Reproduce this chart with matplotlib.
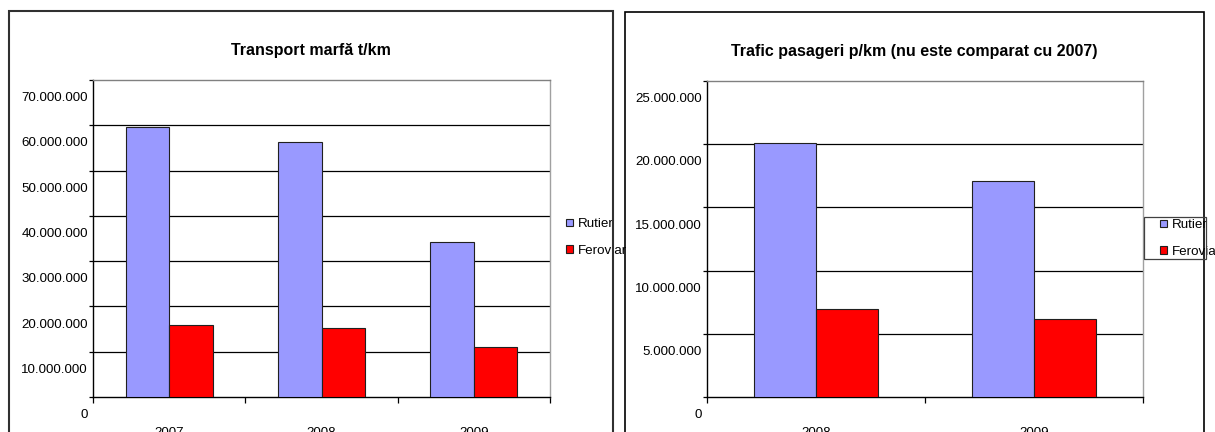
import matplotlib.pyplot as plt
import matplotlib.transforms as mtransforms
from matplotlib.patches import Rectangle
import numpy as np

plt.rcParams['font.family'] = ['Liberation Sans', 'DejaVu Sans']

# freight transport, t/km
ani_marfa = ['2007', '2008', '2009']
rutier_marfa = [59600000, 56400000, 34200000]
feroviar_marfa = [15800000, 15200000, 11000000]

# passenger traffic, p/km
ani_pasageri = ['2008', '2009']
rutier_pasageri = [20100000, 17100000]
feroviar_pasageri = [6950000, 6150000]

serii = ['Rutier', 'Feroviar']
culori = ['#9999FF', '#FF0000']

W, H = 1215, 432
fig = plt.figure(figsize=(W / 100, H / 100), dpi=100)


def px_box(x0, y0, x1, y1):
    # pixel box (top-left origin) -> figure fraction rect
    return [x0 / W, 1 - y1 / H, (x1 - x0) / W, (y1 - y0) / H]


def fmt(v):
    return '{:,}'.format(int(v)).replace(',', '.')


def bar_chart(rect, ani, valori, ymax, step):
    ax = fig.add_axes(rect)
    x = np.arange(len(ani))
    w = 1 / 3.5  # gap width 150%
    for i, (vals, c, nume) in enumerate(zip(valori, culori, serii)):
        ax.bar(x + (i - 0.5) * w, vals, w, color=c, edgecolor='#202020',
               linewidth=0.8, label=nume, zorder=3)
    ax.set_xlim(-0.5, len(ani) - 0.5)
    ax.set_ylim(0, ymax)
    yt = np.arange(0, ymax + 1, step)
    ax.set_yticks(yt)
    ax.set_yticklabels([fmt(v) for v in yt])
    for t in yt[1:-1]:
        ax.axhline(t, color='black', linewidth=0.9, zorder=1)
    ax.set_xticks(x)
    ax.set_xticklabels(ani)
    ax.set_xticks(np.arange(-0.5, len(ani)), minor=True)
    ax.tick_params(axis='x', which='major', length=0, pad=21.5, labelsize=9.6)
    ax.tick_params(axis='x', which='minor', length=4, width=0.9, direction='out')
    ax.tick_params(axis='y', length=3, width=0.9, pad=0.8, labelsize=9.6)
    # value labels sit lower than their gridlines
    off = mtransforms.ScaledTranslation(0, -0.167, fig.dpi_scale_trans)
    for lab in ax.get_yticklabels():
        lab.set_transform(lab.get_transform() + off)
    ax.spines['left'].set_color('black')
    ax.spines['bottom'].set_color('black')
    ax.spines['top'].set_color('#808080')
    ax.spines['right'].set_color('#a0a0a0')
    for s in ax.spines.values():
        s.set_linewidth(1.0)
    return ax


# outer chart frames
fig.patches.append(Rectangle((9 / W, -0.05), (613 - 9) / W, 1.05 - 11 / H,
                             transform=fig.transFigure, fill=False,
                             edgecolor='#303030', linewidth=1.5))
fig.patches.append(Rectangle((625 / W, -0.05), (1204 - 625) / W, 1.05 - 12 / H,
                             transform=fig.transFigure, fill=False,
                             edgecolor='black', linewidth=1.2))

ax1 = bar_chart(px_box(93, 80, 550, 397), ani_marfa,
                [rutier_marfa, feroviar_marfa], 70000000, 10000000)
ax2 = bar_chart(px_box(707, 81, 1143, 397), ani_pasageri,
                [rutier_pasageri, feroviar_pasageri], 25000000, 5000000)

fig.text(311 / W, 1 - 55 / H, 'Transport marfă t/km', ha='center',
         va='baseline', fontsize=11.5, fontweight='bold')
fig.text(914 / W, 1 - 56 / H, 'Trafic pasageri p/km (nu este comparat cu 2007)',
         ha='center', va='baseline', fontsize=11.5, fontweight='bold')

leg_kw = dict(fontsize=9.6, handlelength=0.5, handleheight=0.5,
              handletextpad=0.4, labelspacing=1.1, borderaxespad=0,
              frameon=False, bbox_transform=fig.transFigure, loc='upper left')
ax1.legend(bbox_to_anchor=(561 / W, 1 - 213 / H), **leg_kw)
ax2.legend(bbox_to_anchor=(1155 / W, 1 - 214 / H), **leg_kw)
# legend box of the second chart is narrower than its text
fig.patches.append(Rectangle((1144 / W, 1 - 259 / H), (1206 - 1144) / W,
                             (259 - 217) / H, transform=fig.transFigure,
                             fill=False, edgecolor='#404040', linewidth=0.9))

fig.savefig('out.png', dpi=100)
